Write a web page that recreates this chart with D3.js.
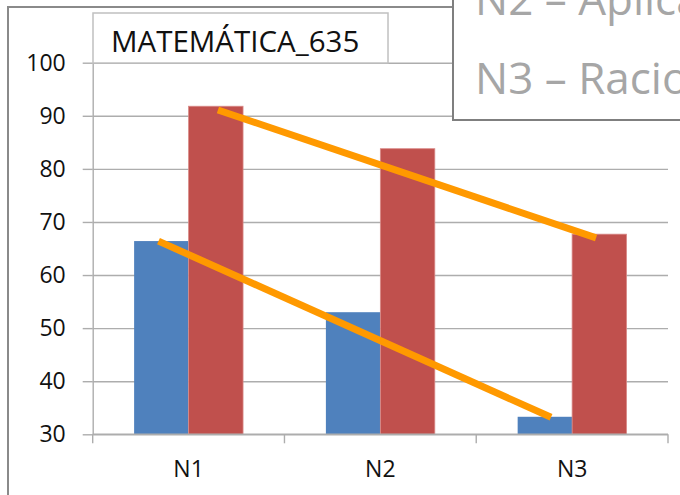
<!DOCTYPE html>
<html><head><meta charset="utf-8">
<script src="https://cdn.jsdelivr.net/npm/d3@7"></script>
<style>body{margin:0;background:#fff}svg{display:block}text{font-family:"Open Sans",sans-serif}</style>
</head><body>
<svg id="c" width="680" height="495"></svg>
<script>
const categories = ["N1", "N2", "N3"];
const seriesNames = ["S1", "S2"];
const blueValues = [66.4, 53.0, 33.3];
const redValues = [91.8, 83.8, 67.7];
const yTicks = [30, 40, 50, 60, 70, 80, 90, 100];
const titleText = "MATEMÁTICA_635";
const overlayLines = ["N2 – Aplicação", "N3 – Raciocínio"];
// hand-drawn trend lines: category-position (0..3) and value at each end
const trendX0 = [0.653, 0.343];
const trendY0 = [91.1, 66.4];
const trendX1 = [2.625, 2.39];
const trendY1 = [67.0, 33.2];

const svg = d3.select("#c");
const L = 92.7, R = 668, T = 62.7, B = 434.3;
const y = d3.scaleLinear().domain([30, 100]).range([B, T]);
const x = d3.scaleBand().domain(categories).range([L, R]).paddingInner(0).paddingOuter(0);
const xPos = d3.scaleLinear().domain([0, categories.length]).range([L, R]);
const groupW = x.bandwidth() * 0.568;
const x1 = d3.scaleBand().domain(seriesNames).range([0, groupW]).padding(0);
const colors = ["#4F81BD", "#C0504D"];

// outer frame
svg.append("rect").attr("x", 8).attr("y", 7).attr("width", 800).attr("height", 700)
  .attr("fill", "#fff").attr("stroke", "#8a8a8a").attr("stroke-width", 2);

// gridlines
svg.append("g").attr("transform", `translate(${L},0)`)
  .call(d3.axisLeft(y).tickValues(yTicks).tickSize(-(R - L)).tickFormat(""))
  .call(g => g.select(".domain").remove())
  .call(g => g.selectAll("line").attr("stroke", "#adadad").attr("stroke-width", 1.4));

// y axis
svg.append("g").attr("transform", `translate(${L},0)`)
  .call(d3.axisLeft(y).tickValues(yTicks).tickSizeInner(10).tickSizeOuter(0).tickPadding(17))
  .call(g => g.select(".domain").attr("stroke", "#adadad").attr("stroke-width", 1.4))
  .call(g => g.selectAll("line").attr("stroke", "#adadad").attr("stroke-width", 1.4))
  .call(g => g.selectAll("text").attr("font-size", 23).attr("fill", "#111").attr("font-family", "Open Sans"));

// bars
const series = [blueValues, redValues];
series.forEach((vals, si) => {
  svg.append("g").selectAll("rect").data(vals).join("rect")
    .attr("x", (d, i) => x(categories[i]) + (x.bandwidth() - groupW) / 2 + x1(seriesNames[si]))
    .attr("y", d => y(d))
    .attr("width", x1.bandwidth())
    .attr("height", d => y(30) - y(d))
    .attr("fill", colors[si])
    .attr("stroke", si === 1 ? "#d98a88" : "none")
    .attr("stroke-width", si === 1 ? 0.8 : 0);
});

// x axis
const xa = svg.append("g").attr("transform", `translate(0,${B})`);
xa.append("line").attr("x1", L).attr("x2", R).attr("stroke", "#adadad").attr("stroke-width", 1.4);
xa.selectAll("line.tk").data(d3.range(categories.length + 1)).join("line").attr("class", "tk")
  .attr("x1", d => xPos(d)).attr("x2", d => xPos(d)).attr("y1", 0).attr("y2", 9)
  .attr("stroke", "#adadad").attr("stroke-width", 1.4);
xa.selectAll("text").data(categories).join("text")
  .attr("x", d => x(d) + x.bandwidth() / 2).attr("y", 43)
  .attr("text-anchor", "middle").attr("font-size", 23).attr("fill", "#111").text(d => d);

// trend lines
svg.append("g").selectAll("line").data(trendX0).join("line")
  .attr("x1", (d, i) => xPos(trendX0[i])).attr("y1", (d, i) => y(trendY0[i]))
  .attr("x2", (d, i) => xPos(trendX1[i])).attr("y2", (d, i) => y(trendY1[i]))
  .attr("stroke", "#FF9900").attr("stroke-width", 7);

// title box
svg.append("rect").attr("x", 93).attr("y", 13).attr("width", 295).attr("height", 50)
  .attr("fill", "#fff").attr("stroke", "#c0c0c0").attr("stroke-width", 1.5);
svg.append("text").attr("x", 111).attr("y", 52).attr("font-size", 29.5).attr("fill", "#111").text(titleText);

// overlay box
svg.append("rect").attr("x", 453).attr("y", -20).attr("width", 300).attr("height", 140)
  .attr("fill", "#fff").attr("stroke", "#7f7f7f").attr("stroke-width", 2);
svg.append("g").selectAll("text").data(overlayLines).join("text")
  .attr("x", 475).attr("y", (d, i) => 15 + i * 78.5)
  .attr("font-size", 44).attr("fill", "#a6a6a6").text(d => d);
</script>
</body></html>
